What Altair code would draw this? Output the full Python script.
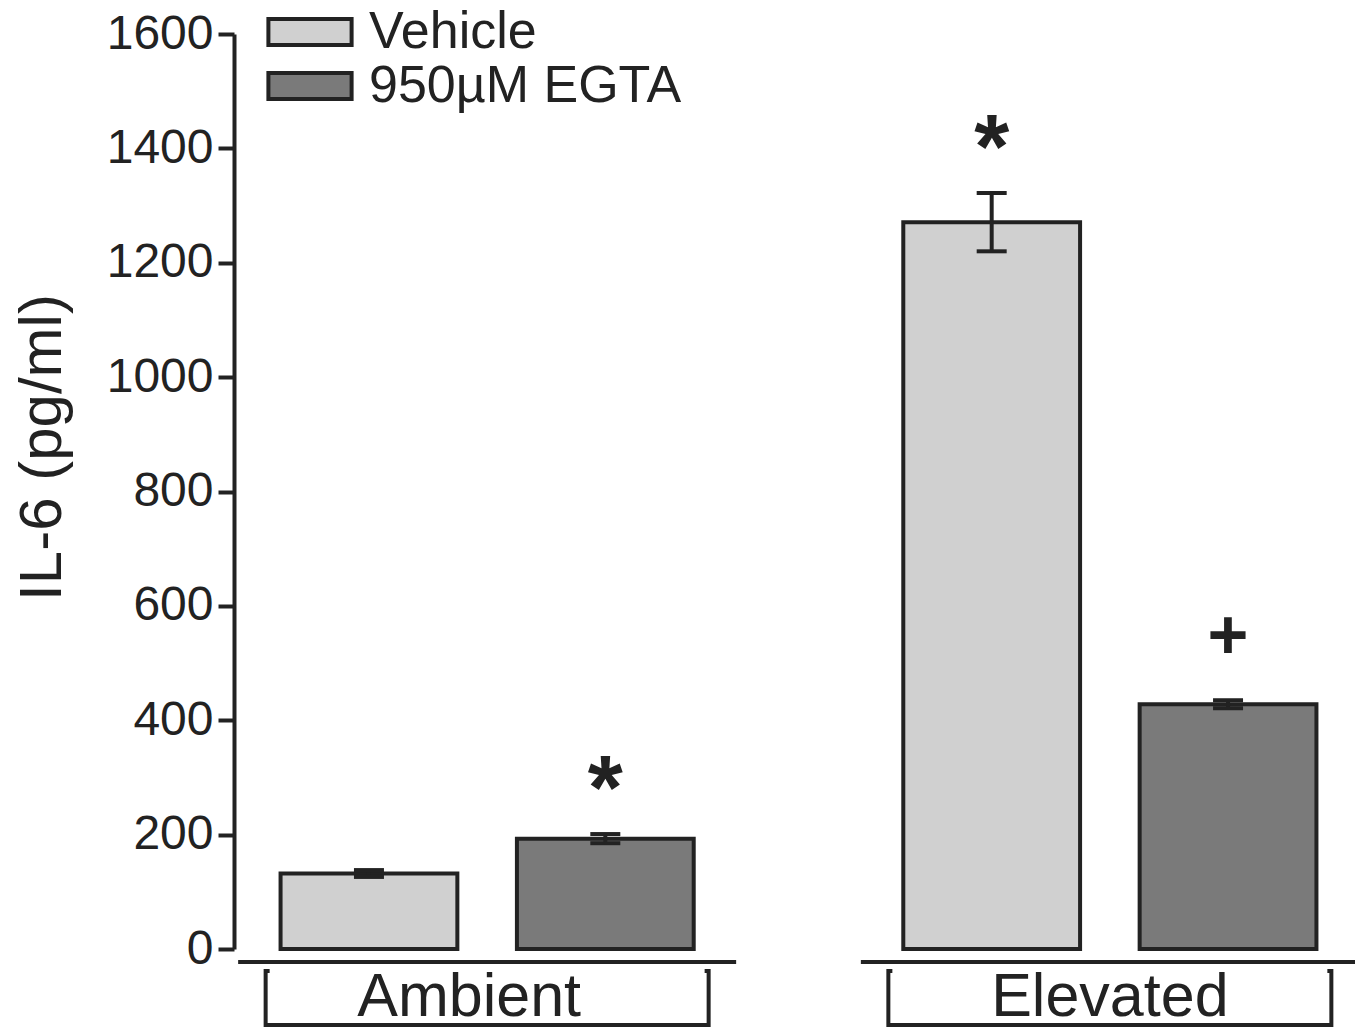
import altair as alt
import pandas as pd

groups = ["Ambient", "Ambient", "Elevated", "Elevated"]
treatments = ["Vehicle", "950µM EGTA", "Vehicle", "950µM EGTA"]
means = [132, 193, 1271, 428]
sems = [6, 8, 51, 7]
signs = ["", "*", "*", "+"]

group_names = ["Ambient", "Elevated"]
treat_order = ["Vehicle", "950µM EGTA"]
y_ticks = [0, 200, 400, 600, 800, 1000, 1200, 1400, 1600]

df = pd.DataFrame({
    "group": groups, "treatment": treatments, "mean": means, "sem": sems, "sign": signs,
})
df["lo"] = df["mean"] - df["sem"]
df["hi"] = df["mean"] + df["sem"]
gdf = pd.DataFrame({"group": group_names})

W, H = 1121, 915
FONT = "Liberation Sans"
INK = "#222222"

xg = alt.X("group:N", sort=group_names,
           scale=alt.Scale(range=[0, 1129], paddingInner=0.187, paddingOuter=0), axis=None)
xo = alt.XOffset("treatment:N", sort=treat_order,
                 scale=alt.Scale(domain=treat_order, paddingInner=0.252, paddingOuter=0.197))
yq = alt.Y("mean:Q", scale=alt.Scale(domain=[0, 1600], nice=False),
           axis=alt.Axis(values=y_ticks, format="d", tickSize=16, tickWidth=4, domainWidth=4,
                         domainColor=INK, tickColor=INK, labelFontSize=48, labelColor=INK,
                         labelFont=FONT, labelPadding=5, grid=False,
                         title="IL-6 (pg/ml)", titleFont=FONT, titleFontSize=60,
                         titleFontWeight="normal", titleColor=INK, titlePadding=33,
                         titleY=413))

base = alt.Chart(df)

bars = base.mark_bar(stroke=INK, strokeWidth=4, opacity=1).encode(
    x=xg, xOffset=xo, y=yq,
    color=alt.Color("treatment:N", sort=treat_order,
                    scale=alt.Scale(domain=treat_order, range=["#d0d0d0", "#7a7a7a"]),
                    legend=alt.Legend(orient="none", legendX=48, legendY=-30, title=None,
                                      symbolType="M-1.6,-0.5H1.6V0.5H-1.6Z", symbolSize=2704,
                                      symbolStrokeColor=INK, symbolStrokeWidth=4,
                                      symbolOpacity=1, labelFontSize=52, labelFont=FONT,
                                      labelColor=INK, labelOffset=31, rowPadding=-7,
                                      labelLimit=600)),
)

err = base.mark_rule(color=INK, strokeWidth=4, opacity=1).encode(
    x=xg, xOffset=xo, y="lo:Q", y2="hi:Q")
caps_lo = base.mark_tick(color=INK, thickness=4, size=30, orient="horizontal", opacity=1).encode(
    x=xg, xOffset=xo, y="lo:Q")
caps_hi = base.mark_tick(color=INK, thickness=4, size=30, orient="horizontal", opacity=1).encode(
    x=xg, xOffset=xo, y="hi:Q")

stars = base.transform_filter(alt.datum.sign == "*").mark_text(
    color=INK, font=FONT, fontWeight="bold", baseline="middle", dy=-42, fontSize=90).encode(
    x=xg, xOffset=xo, y="hi:Q", text="sign:N")
plus = base.transform_filter(alt.datum.sign == "+").mark_text(
    color=INK, font=FONT, fontWeight="bold", baseline="middle", dy=-62, fontSize=70).encode(
    x=xg, xOffset=xo, y="hi:Q", text="sign:N")

gbase = alt.Chart(gdf)
gline = gbase.mark_bar(color=INK, width=498).encode(
    x=xg, y=alt.value(H + 11), y2=alt.value(H + 15))
bracket = gbase.mark_bar(width=443, fill="white", fillOpacity=0, stroke=INK, strokeWidth=4).encode(
    x=xg, y=alt.value(H + 22), y2=alt.value(H + 76))
cover = gbase.mark_bar(width=435, color="white").encode(
    x=xg, y=alt.value(H + 18), y2=alt.value(H + 24))
glabel_a = gbase.transform_filter(alt.datum.group == "Ambient").mark_text(
    font=FONT, fontSize=61, color=INK, baseline="alphabetic", dx=-18).encode(
    x=xg, y=alt.value(H + 67), text="group:N")
glabel_e = gbase.transform_filter(alt.datum.group == "Elevated").mark_text(
    font=FONT, fontSize=61, color=INK, baseline="alphabetic").encode(
    x=xg, y=alt.value(H + 67), text="group:N")

chart = alt.layer(bars, err, caps_lo, caps_hi, stars, plus, gline, bracket, cover,
                  glabel_a, glabel_e).properties(
    width=W, height=H,
    autosize=alt.AutoSizeParams(type="none"),
    padding={"left": 226, "top": 26, "right": 0, "bottom": 78},
).configure_view(strokeWidth=0)

chart.save("out.html", embed_options={"renderer": "svg", "actions": False})
